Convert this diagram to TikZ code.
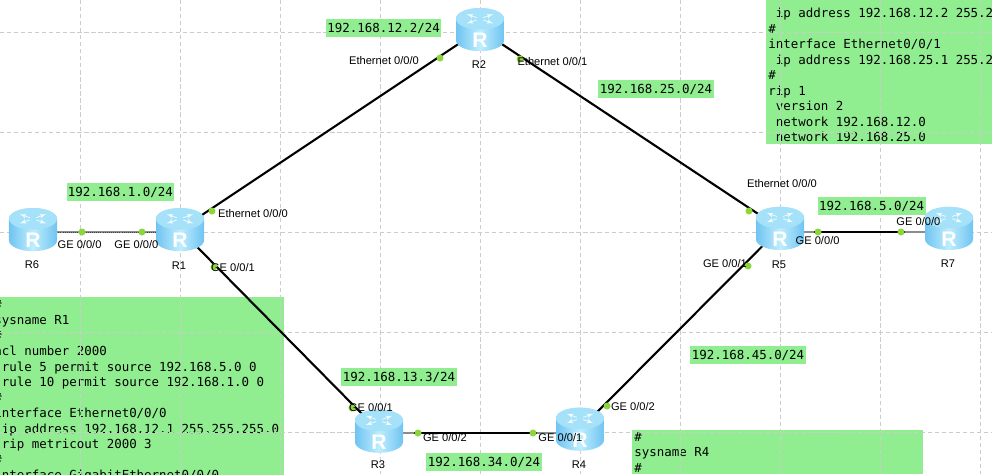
\documentclass[tikz,border=0pt]{standalone}
\usepackage{fontspec}
\setmainfont{Liberation Sans}
\newfontfamily\cfgfont{DejaVu Sans Mono}
\usetikzlibrary{arrows}
\usetikzlibrary{calc}
\usetikzlibrary{backgrounds}
\definecolor{panelgreen}{RGB}{144,238,144}
\definecolor{portgreen}{RGB}{140,214,60}
\definecolor{routertop}{RGB}{165,226,250}
\definecolor{routerside}{RGB}{112,196,242}
\definecolor{routermid}{RGB}{190,237,253}

\begin{document}
\begin{tikzpicture}
    \tikzset{routerbox/.style = {shape=rectangle,draw=none,minimum width=1.2cm,minimum height=1.075cm,inner sep=0pt,
        text=white,font=\fontsize{15}{15}\bfseries}}
    \tikzset{routerbody/.style = {left color=routerside,right color=routerside,middle color=routermid}}
    \tikzset{port/.style = {shape=circle,fill=portgreen,draw=none,inner sep=0pt,minimum size=0.175cm}}
    \tikzset{portname/.style = {inner sep=0pt,font=\fontsize{7.9}{9}\selectfont}}
    \tikzset{routername/.style = {inner sep=0pt,font=\fontsize{7.9}{9}\selectfont}}
    \tikzset{netlabel/.style = {fill=panelgreen,inner xsep=1pt,inner ysep=0pt,minimum height=0.45cm,
        font=\cfgfont\fontsize{8.86}{11}\selectfont}}
    \tikzset{panel/.style = {fill=panelgreen,inner xsep=0.05cm,inner ysep=0.05cm,align=justify,
        font=\cfgfont\fontsize{8.86}{11.02}\selectfont}}
    \tikzset{gridline/.style = {densely dashed,draw=black!20,line width=0.5pt}}
    \tikzset{link/.style = {-,draw=black,line width=1.5pt}}
    \tikzset{graylink/.style = {-,draw=black!45,line width=1.8pt}}

    \useasboundingbox (0,0) rectangle (24.8,-11.85);

    % config panels

    \begin{pgfonlayer}{background}
    \fill[white] (0,0) rectangle (24.8,-11.85);
    \node[panel,anchor=north west,text width=7.2cm,inner ysep=0.08cm] (cfgR1) at (-0.2,-7.425) {\#\\
sysname R1\\
\#\\
acl number 2000\\
\mbox{ }rule 5 permit source 192.168.5.0 0\\
\mbox{ }rule 10 permit source 192.168.1.0 0\\
\#\\
interface Ethernet0/0/0\\
\mbox{ }ip address 192.168.12.1 255.255.255.0\\
\mbox{ }rip metricout 2000 3\\
\#\\
interface GigabitEthernet0/0/0};
    \node[panel,anchor=south west,text width=9cm] (cfgR2) at (19.15,-3.6) {\mbox{}\\
\mbox{ }ip address 192.168.12.2 255.255.255.0\\
\#\\
interface Ethernet0/0/1\\
\mbox{ }ip address 192.168.25.1 255.255.255.0\\
\#\\
rip 1\\
\mbox{ }version 2\\
\mbox{ }network 192.168.12.0\\
\mbox{ }network 192.168.25.0};
    \node[panel,anchor=north west,text width=7.175cm] (cfgR4) at (15.8,-10.75) {\#\\
sysname R4\\
\#};

    % grid

    \foreach \x in {2,4.5,...,24.5}
        \draw[gridline] (\x,0) -- (\x,-11.85);
    \foreach \y in {0.8,3.3,5.8,8.3,10.8}
        \draw[gridline] (0,-\y) -- (24.8,-\y);
    \end{pgfonlayer}

    % routers

    \foreach \rname/\rx/\ry in {R6/0.825/-5.74,R1/4.5/-5.74,R2/12/-0.74,R3/9.475/-10.78,R4/14.5/-10.73,R5/19.5/-5.71,R7/23.725/-5.71} {
        \begin{scope}[shift={(\rx,\ry)}]
            \shade[routerbody] (-0.6,0.27) -- (-0.6,-0.27) arc (180:360:0.6 and 0.27) -- (0.6,0.27) arc (0:180:0.6 and 0.27) -- cycle;
            \fill[routertop] (0,0.27) ellipse (0.6 and 0.27);
            \foreach \a in {35,145,215,325}
                \draw[-latex',white,line width=0.5pt,opacity=0.9] ($(0,0.27)+(\a:0.1 and 0.05)$) -- ($(0,0.27)+(\a:0.4 and 0.2)$);
        \end{scope}
        \node[routerbox] (\rname) at (\rx,\ry) {\smash{\raisebox{-13pt}{R}}};
    }

    \node[routername] (nR6) at (0.8,-6.625) {R6};
    \node[routername] (nR1) at (4.475,-6.65) {R1};
    \node[routername] (nR2) at (11.975,-1.625) {R2};
    \node[routername] (nR3) at (9.45,-11.625) {R3};
    \node[routername] (nR4) at (14.475,-11.625) {R4};
    \node[routername] (nR5) at (19.475,-6.625) {R5};
    \node[routername] (nR7) at (23.7,-6.6) {R7};

    % ports

    \node[port] (p6a) at (2.05,-5.8) {};
    \node[port] (p1a) at (3.55,-5.8) {};
    \node[port] (p1b) at (5.3,-5.275) {};
    \node[port] (p2a) at (11,-1.45) {};
    \node[port] (p2b) at (13,-1.475) {};
    \node[port] (p5a) at (18.725,-5.275) {};
    \node[port] (p1c) at (5.35,-6.675) {};
    \node[port] (p3a) at (8.8,-10.2) {};
    \node[port] (p3b) at (10.45,-10.825) {};
    \node[port] (p4a) at (13.325,-10.825) {};
    \node[port] (p4b) at (15.175,-10.15) {};
    \node[port] (p5b) at (18.7,-6.65) {};
    \node[port] (p5c) at (20.45,-5.8) {};
    \node[port] (p7a) at (22.525,-5.8) {};

    % links

    \begin{pgfonlayer}{background}
    \draw[graylink] (R6.center |- p6a) to (R1.center |- p1a);
    \draw[link,draw=black!75,line width=0.5pt,densely dotted] (R6.center |- p6a) to (R1.center |- p1a);
    \draw[link] (R1.center) to (R2.center);
    \draw[link] (R2.center) to (R5.center);
    \draw[link] (R1.center) to (R3.center);
    \draw[link] (R4.center) to (R5.center);
    \draw[link,line width=1pt] (R3.center |- p3b) to (R4.center |- p4a);
    \draw[graylink] (R3.center |- p3b) to (p3b);
    \draw[graylink] (p4a) to (R4.center |- p4a);
    \draw[link,line width=1pt] (R5.center |- p5c) to (R7.center |- p7a);
    \draw[graylink] (R5.center |- p5c) to (p5c);
    \draw[graylink] (p7a) to (R7.center |- p7a);
    \end{pgfonlayer}

    % labels

    \node[netlabel] (n12) at (9.59,-0.7) {192.168.12.2/24};
    \node[netlabel] (n25) at (16.4,-2.225) {192.168.25.0/24};
    \node[netlabel] (n1) at (3.01,-4.81) {192.168.1.0/24};
    \node[netlabel] (n5) at (21.79,-5.15) {192.168.5.0/24};
    \node[netlabel] (n13) at (9.975,-9.425) {192.168.13.3/24};
    \node[netlabel] (n34) at (12.1,-11.56) {192.168.34.0/24};
    \node[netlabel] (n45) at (18.7,-8.875) {192.168.45.0/24};

    \node[portname] (t1b) at (6.325,-5.35) {Ethernet 0/0/0};
    \node[portname] (t6a) at (1.99,-6.125) {GE 0/0/0};
    \node[portname] (t1a) at (3.41,-6.125) {GE 0/0/0};
    \node[portname] (t1c) at (5.825,-6.7) {GE 0/0/1};
    \node[portname] (t2a) at (9.6,-1.525) {Ethernet 0/0/0};
    \node[portname] (t2b) at (13.81,-1.55) {Ethernet 0/0/1};
    \node[portname] (t5a) at (19.55,-4.6) {Ethernet 0/0/0};
    \node[portname] (t5c) at (20.44,-6.025) {GE 0/0/0};
    \node[portname] (t5b) at (18.125,-6.6) {GE 0/0/1};
    \node[portname] (t7a) at (22.96,-5.55) {GE 0/0/0};
    \node[portname] (t3a) at (9.275,-10.2) {GE 0/0/1};
    \node[portname] (t3b) at (11.125,-10.95) {GE 0/0/2};
    \node[portname] (t4a) at (14.01,-10.95) {GE 0/0/1};
    \node[portname] (t4b) at (15.825,-10.175) {GE 0/0/2};
\end{tikzpicture}
\end{document}
